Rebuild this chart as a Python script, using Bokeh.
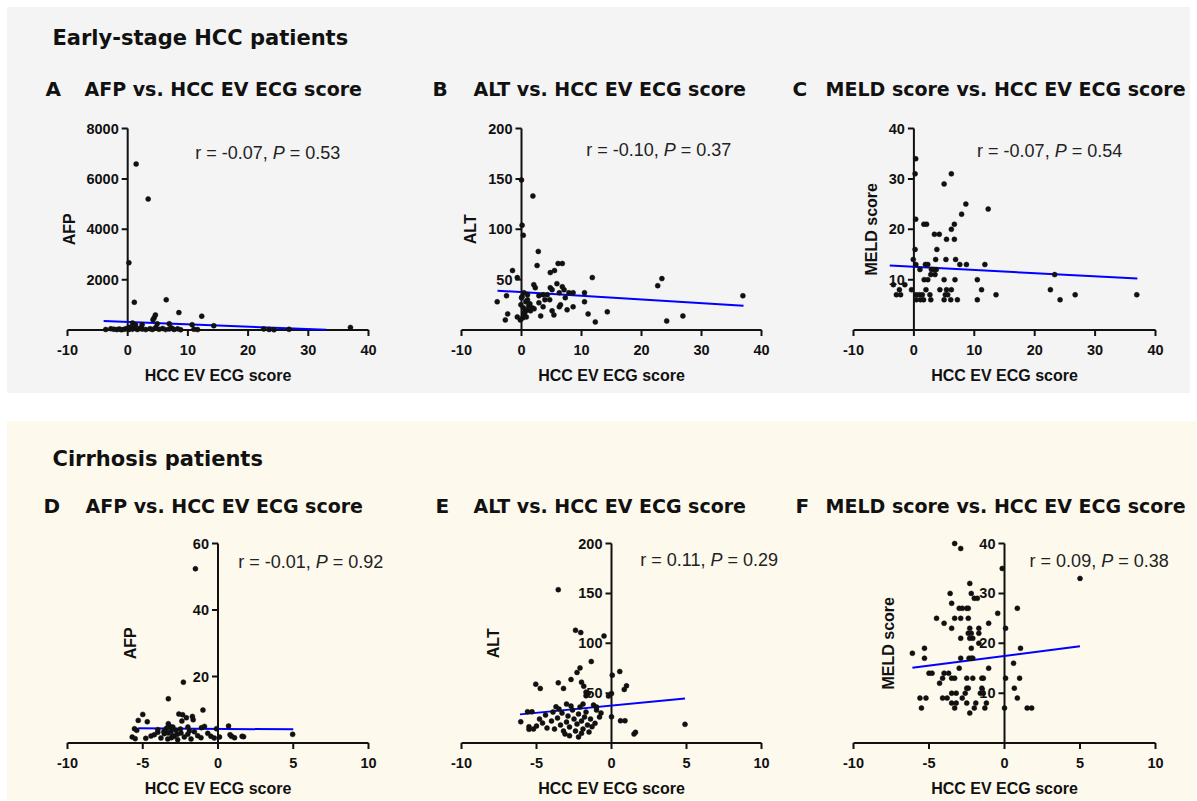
import numpy as np
from bokeh.plotting import figure
from bokeh.models import ColumnDataSource, LabelSet, Label, Range1d, Spacer
from bokeh.layouts import column, row
from bokeh.core.properties import value
from bokeh.embed import file_html
from bokeh.resources import INLINE

# ---------------- data ----------------
top_heading = "Early-stage HCC patients"
bottom_heading = "Cirrhosis patients"
letters_top = ["A", "B", "C"]
letters_bottom = ["D", "E", "F"]
panel_titles = ["AFP vs. HCC EV ECG score", "ALT vs. HCC EV ECG score",
                "MELD score vs. HCC EV ECG score"]
x_title = "HCC EV ECG score"
y_titles = ["AFP", "ALT", "MELD score"]

x_ticks_early = [-10, 0, 10, 20, 30, 40]
x_ticks_cirr = [-10, -5, 0, 5, 10]
afp_early_yticks = [2000, 4000, 6000, 8000]
alt_early_yticks = [50, 100, 150, 200]
meld_early_yticks = [10, 20, 30, 40]
afp_cirr_yticks = [20, 40, 60]
alt_cirr_yticks = [50, 100, 150, 200]
meld_cirr_yticks = [10, 20, 30, 40]

stat_r = ["-0.07", "-0.10", "-0.07", "-0.01", "0.11", "0.09"]
stat_p = ["0.53", "0.37", "0.54", "0.92", "0.29", "0.38"]

# A: AFP (early-stage)
afp_early_x = [1.4, 3.4, 0.2, 1.1, 6.4, 8.5, 12.3, 4.4, 4.6, 4.2, 4.9, 6.9, 2.4, 10.7, 14.3, 37.0,
               0.8, 1.3, 0.3, 0.1,
               -3.65, -2.8, -2.3, -1.8, -1.4, -1.05, -0.6, -0.2, 0.2, 0.5, 0.8, 1.05, 1.6, 2.0,
               2.4, 3.0, 3.7, 4.1, 4.65, 5.2, 5.8, 6.3, 6.9, 7.3, 7.7, 8.3, 8.8, 11.0, 11.6,
               22.6, 23.5, 24.3, 26.8]
afp_early_y = [6590, 5200, 2670, 1100, 1200, 690, 550, 490, 600, 410, 250, 250, 210, 210, 170, 100,
               280, 200, 110, 40,
               20, 50, 30, 15, 40, 10, 25, 60, 15, 90, 30, 130, 20, 70,
               35, 15, 50, 20, 100, 30, 60, 15, 40, 80, 20, 45, 10, 30, 15,
               40, 20, 10, 25]
afp_early_fit_x = [-4, 33]
afp_early_fit_y = [360, 5]

# B: ALT (early-stage)
alt_early_x = [0, 1.9, 0.1, 0.3, 2.8, 2.6, -1.5, -0.7, 4.8, 5.5, 6.1, 6.8, 11.8, 23.4, 22.7, 36.9,
               -4.05, -2.5, -2.3, -2.7, -0.7, -0.2, 2.05, 2.3, 1.0, 0.1, 0.4, 2.9, 3.2, 3.6,
               3.9, 4.3, 4.7, 4.8, 5.1, 5.9, 6.3, 6.8, 7.1, 6.5, 6.3, 5.1, 5.4, 7.3, 7.9, 8.6,
               8.6, 7.6, 10.5, 10.5, 11.1, 12.3, 14.3, 24.2, 26.9, 3.6, 2.9,
               -0.1, 0.3, 0.6, 0.9, 1.2, 0.4, 0.7, 1.5, 0.2, 1.0, 1.8, 0.5, 1.4, 2.1, 0.0, 0.8]
alt_early_y = [149, 133, 104, 94, 78, 64, 59, 52, 57, 59, 66, 66, 52, 51, 44, 34,
               28, 34, 16, 10, 13, 10, 45, 42, 35, 33, 37, 27, 14, 23,
               30, 35, 30, 42, 40, 46, 37, 43, 40, 25, 23, 19, 15, 32, 37, 37,
               23, 20, 37, 28, 16, 8, 18, 9, 14, 35, 34,
               25, 22, 18, 20, 24, 15, 28, 19, 12, 30, 22, 17, 26, 21, 32, 13]
alt_early_fit_x = [-4, 37]
alt_early_fit_y = [39, 24]

# C: MELD (early-stage)
meld_early_x = [0.3, 0.2, 6.2, 5.0, 8.6, 7.9, 12.3, 0.3, 1.65, 2.1, 6.7, 6.2, 3.4, 4.2, 5.4, 6.7,
                0.2, 3.8, -0.1, 3.6, 5.3, 6.9, 7.6, 8.7, 11.75, 0.33, 1.9, 2.3, 2.9, 3.3, 3.7,
                1.0, 2.8, 3.5, 1.7, 2.3, 5.0, 6.8, 10.5, 23.3, -3.4, -1.5, -2.4, -0.4, 2.0,
                4.3, 5.4, 6.2, 11.2, 22.6, -2.9, -2.2, 0.4, 0.9, 1.4, 2.65, 5.2, 5.6, 13.6,
                26.7, 36.9, 0.4, 1.1, 1.6, 2.8, 5.0, 6.1, 7.2, 10.5, 24.2]
meld_early_y = [34, 31, 31, 29, 25, 23, 24, 22, 21, 21, 21, 20, 19, 19, 18, 18,
                16, 16, 14, 14, 14, 14, 13, 13, 13, 13, 13, 13, 12, 12, 12,
                12, 11, 11, 10, 10, 10, 10, 10, 11, 9, 9, 8, 8, 8,
                8, 8, 8, 8, 8, 7, 7, 7, 7, 7, 7, 7, 7, 7,
                7, 7, 6, 6, 6, 6, 6, 6, 6, 6, 6]
meld_early_fit_x = [-4, 37]
meld_early_fit_y = [12.8, 10.2]

# D: AFP (cirrhosis)
afp_cirr_x = [-1.5, -2.3, -3.3, -1.0, -5.0, -5.3, -4.7, -2.6, -2.35, -2.1, -1.7, -1.65, -2.4,
              -3.3, -3.2, -3.4, -3.5, -3.0, 0.7, -0.1, -0.9, -1.1, -5.55, -5.4, -5.7, -5.5,
              -4.8, -4.45,
              -4.23, -4.0, -3.79, -3.57, -3.34, -3.12, -2.9, -2.68, -2.46, -2.24, -2.01,
              -1.79, -1.57, -1.35, -1.13, -0.68, -0.47, -0.25,
              -3.3, -3.0, -2.8, -2.5, -2.0, -1.9, -3.6, -4.0, -2.7, -3.1,
              0.1, 0.9, 1.1, 1.6, 1.7, 0.8, 4.96]
afp_cirr_y = [52.4, 18.3, 13.3, 9.9, 8.6, 6.8, 6.4, 8.7, 8.5, 7.6, 8.0, 7.0, 6.6,
              5.8, 5.0, 4.5, 4.0, 4.8, 5.1, 4.3, 5.0, 4.6, 4.3, 3.8, 1.8, 1.3,
              1.4, 2.1,
              2.5, 3.2, 1.5, 2.8, 1.2, 3.5, 2.0, 1.0, 3.0, 1.8, 2.6,
              1.2, 3.4, 2.2, 1.6, 2.9, 2.0, 1.5,
              3.0, 2.2, 3.8, 4.2, 4.8, 3.6, 3.4, 4.0, 2.6, 1.6,
              1.8, 2.0, 1.6, 2.0, 1.9, 2.5, 2.6]
afp_cirr_fit_x = [-5.3, 5.0]
afp_cirr_fit_y = [4.4, 4.1]

# E: ALT (cirrhosis)
alt_cirr_x = [-3.55, -2.4, -2.05, -0.5, -1.35, -2.1, -2.3, 0.55, 0.05, -5.05, -4.75, -3.55,
              -3.2, -2.7, -2.0, -1.85, 1.0, 0.85, 0.0, -0.2, -1.7, -1.55, -1.7, -5.6, -5.3,
              -6.05, -5.5, -5.5, -3.7, -3.0, 0.6, 0.9, 0.0, 1.6, 1.5, 4.9, -2.8, -2.0, -1.3,
              -1.1, -1.0, -1.2, -1.0,
              -5.0, -4.6, -4.3, -4.0, -3.8, -3.6, -3.4, -3.3, -3.2, -3.0, -2.9, -2.8, -2.6,
              -2.5, -2.4, -2.3, -2.2, -2.1, -2.0, -1.9, -1.8, -1.7, -1.6, -1.5, -1.4, -3.5,
              -4.4, -3.9, -2.7, -1.9, -0.8, -0.7, -4.8, -5.2, -2.2, -3.1]
alt_cirr_y = [153.7, 113, 110.7, 107.3, 81.7, 75.3, 70.7, 71.7, 68, 59, 54.7, 60.3,
              54.7, 63.7, 61, 57, 57.3, 53.7, 49.7, 47, 51, 49.7, 47.3, 31.3, 31.3,
              21.3, 16.3, 13.7, 36.3, 39, 22.3, 22.3, 26.3, 10.7, 9, 18.7, 7.3, 9.7, 16.3,
              19.7, 33, 38, 36,
              17, 20, 15, 22, 14, 25, 18, 30, 12, 21, 27, 16, 33,
              24, 12, 19, 29, 36, 22, 14, 26, 31, 18, 11, 24, 34,
              28, 31, 37, 39, 26, 30, 24, 14, 6, 9]
alt_cirr_fit_x = [-6.1, 4.9]
alt_cirr_fit_y = [28.7, 44.7]

# F: MELD (cirrhosis)
meld_cirr_x = [-3.3, -2.9, -0.15, 5.0, -2.3, -3.6, -2.2, -2.0, -1.8, -3.5, -3.0, -2.8, -2.5,
               -2.4, 0.85, -0.45, -4.5, -3.3, -2.9, -2.4, -4.0, -1.05, -3.5, -2.3, -1.7, 0.07,
               -2.4, -2.2, -1.7, -2.9, -2.3, -2.1, -1.7, -6.1, -5.3, 1.06, -2.2, -5.3, -2.9,
               -2.35, -2.2, -2.1, -1.05, 0.6, -5.0, -4.8, -4.0, -4.3, -4.1, -3.7, -3.5, -3.3,
               -2.5, -2.1, -1.5, -1.4, 0.07, 1.0, 0.65, -2.5, -2.4, -1.6, -3.5, -3.2, -4.1,
               -3.8, -5.6, -5.2, -2.8, -2.6, 0.85, -3.5, -3.2, -5.5, -3.3, -2.0, -1.3, -2.5,
               -1.9, -2.3, -1.2, 0.0, 1.5, 1.8, -1.5, -1.4, -3.0]
meld_cirr_y = [40, 39, 35, 33, 32, 30, 30, 29, 29, 28, 27, 27, 27,
               27, 27, 26, 25, 25, 25, 25, 24, 24, 23, 23, 23, 23,
               22, 22, 22, 21, 21, 21, 20, 18, 19, 19, 19, 17, 17,
               17, 17, 17, 15, 16, 14, 14, 14, 12, 13, 14, 13, 13,
               13, 13, 13, 13, 13, 13, 11, 11, 11, 10, 10, 10, 9,
               9, 9, 9, 9, 10, 9, 8, 8, 7, 7, 7, 7, 8,
               8, 6, 8, 7, 7, 7, 11, 10, 15]
meld_cirr_fit_x = [-6.1, 5.0]
meld_cirr_fit_y = [15.1, 19.4]

# ---------------- style ----------------
GREY = "#f4f4f4"
CREAM = "#fdf9ed"
INK = "#111111"
LINE_BLUE = "#0000ff"
TITLE_FONT = "DejaVu Sans"
BODY_FONT = "Liberation Sans"


def make_panel(x, y, fx, fy, xticks, yticks, ylab, ylab_xy, stat_anchor, r_txt, p_txt,
               W, H, L, R, T, B, bg):
    """L/R: pixel columns of first/last x tick; T/B: pixel rows of top y tick / zero."""
    x0, x1 = xticks[0], xticks[-1]
    ymax = yticks[-1]
    ux = (x1 - x0) / (R - L)
    uy = ymax / (B - T)
    p = figure(width=W, height=H,
               x_range=Range1d(x0 - L * ux, x0 + (W - L) * ux),
               y_range=Range1d(-(H - B) * uy, ymax + T * uy),
               output_backend="svg", toolbar_location=None,
               x_axis_location=None, y_axis_location=None, min_border=0,
               background_fill_color=bg, border_fill_color=bg, outline_line_color=None)
    p.grid.visible = False

    # x axis (at y = 0)
    n = len(xticks)
    p.segment(x0=[x0], y0=[0], x1=[x1], y1=[0], line_width=2, line_color=INK)
    p.segment(x0=xticks, y0=[0] * n, x1=xticks, y1=[-6 * uy] * n,
              line_width=2, line_color=INK)
    xsrc = ColumnDataSource(dict(x=xticks, y=[-20 * uy] * n, t=[str(v) for v in xticks]))
    p.add_layout(LabelSet(x="x", y="y", text="t", source=xsrc, text_align="center",
                          text_baseline="middle", text_font=value(BODY_FONT),
                          text_font_style="bold", text_font_size="14.5px", text_color=INK))
    p.add_layout(Label(x=(x0 + x1) / 2, y=-45 * uy, text=x_title, text_align="center",
                       text_baseline="middle", text_font=BODY_FONT, text_font_style="bold",
                       text_font_size="16px", text_color=INK))

    # y axis (at x = 0)
    m = len(yticks)
    p.segment(x0=[0], y0=[0], x1=[0], y1=[ymax], line_width=2, line_color=INK)
    p.segment(x0=[0] * m, y0=yticks, x1=[-6 * ux] * m, y1=yticks,
              line_width=2, line_color=INK)
    ysrc = ColumnDataSource(dict(x=[-9 * ux] * m, y=yticks, t=[str(v) for v in yticks]))
    p.add_layout(LabelSet(x="x", y="y", text="t", source=ysrc,
                          text_align="right", text_baseline="middle",
                          text_font=value(BODY_FONT), text_font_style="bold",
                          text_font_size="14.5px", text_color=INK))
    p.add_layout(Label(x=ylab_xy[0], y=ylab_xy[1], text=ylab, angle=np.pi / 2,
                       text_align="center", text_baseline="middle", text_font=BODY_FONT,
                       text_font_style="bold", text_font_size="16px", text_color=INK))

    # data
    p.line(fx, fy, line_color=LINE_BLUE, line_width=2)
    p.scatter(x, y, size=5, fill_color=INK, line_color=INK, line_width=0.5)

    # statistic text
    sx, sy = stat_anchor
    p.add_layout(Label(x=sx, y=sy, text="r = " + r_txt + ",", x_offset=-5,
                       text_align="right", text_baseline="middle", text_font=BODY_FONT,
                       text_font_size="18px", text_color="#222222"))
    p.add_layout(Label(x=sx, y=sy, text="P", text_align="left", text_baseline="middle",
                       text_font=BODY_FONT, text_font_style="italic",
                       text_font_size="18px", text_color="#222222"))
    p.add_layout(Label(x=sx, y=sy, text="= " + p_txt, x_offset=17, text_align="left",
                       text_baseline="middle", text_font=BODY_FONT,
                       text_font_size="18px", text_color="#222222"))
    return p


def header(w, h, bg, heading, heading_xy, letters, letter_x, titles, title_x, title_y):
    hp = figure(width=w, height=h, x_range=Range1d(0, w), y_range=Range1d(0, h),
                output_backend="svg", toolbar_location=None, x_axis_location=None,
                y_axis_location=None, min_border=0, background_fill_color=bg,
                border_fill_color=bg, outline_line_color=None)
    hp.grid.visible = False
    hp.text(x=[heading_xy[0]], y=[heading_xy[1]], text=[heading], text_font=value(TITLE_FONT),
            text_font_style="bold", text_font_size="21px", text_baseline="middle",
            text_align="left", text_color=INK)
    hp.text(x=letter_x, y=[title_y] * 3, text=letters, text_font=value(TITLE_FONT),
            text_font_style="bold", text_font_size="20px", text_baseline="middle",
            text_align="left", text_color=INK)
    hp.text(x=title_x, y=[title_y] * 3, text=titles, text_font=value(TITLE_FONT),
            text_font_style="bold", text_font_size="19px", text_baseline="middle",
            text_align="left", text_color=INK)
    return hp


# figure geometry (pixels)
top_w = [393, 393, 397]
bot_w = [393, 393, 403]
tick_l = [60, 61, 60]
tick_r = [361, 361, 362]

top_specs = [
    (afp_early_x, afp_early_y, afp_early_fit_x, afp_early_fit_y, afp_early_yticks,
     y_titles[0], (-9.6, 4000), (24.1, 7040)),
    (alt_early_x, alt_early_y, alt_early_fit_x, alt_early_fit_y, alt_early_yticks,
     y_titles[1], (-8.5, 100), (23.7, 179)),
    (meld_early_x, meld_early_y, meld_early_fit_x, meld_early_fit_y, meld_early_yticks,
     y_titles[2], (-7.0, 20), (23.3, 35.5)),
]
bot_specs = [
    (afp_cirr_x, afp_cirr_y, afp_cirr_fit_x, afp_cirr_fit_y, afp_cirr_yticks,
     y_titles[0], (-5.8, 30), (6.5, 54.4)),
    (alt_cirr_x, alt_cirr_y, alt_cirr_fit_x, alt_cirr_fit_y, alt_cirr_yticks,
     y_titles[1], (-7.9, 100), (6.6, 183)),
    (meld_cirr_x, meld_cirr_y, meld_cirr_fit_x, meld_cirr_fit_y, meld_cirr_yticks,
     y_titles[2], (-7.7, 20), (6.4, 36.4)),
]

top_figs = []
for i, (x, y, fx, fy, yt, yl, ylxy, sa) in enumerate(top_specs):
    top_figs.append(make_panel(x, y, fx, fy, x_ticks_early, yt, yl, ylxy, sa,
                               stat_r[i], stat_p[i], top_w[i], 275,
                               tick_l[i], tick_r[i], 10, 211.5, GREY))
bot_figs = []
for i, (x, y, fx, fy, yt, yl, ylxy, sa) in enumerate(bot_specs):
    bot_figs.append(make_panel(x, y, fx, fy, x_ticks_cirr, yt, yl, ylxy, sa,
                               stat_r[i + 3], stat_p[i + 3], bot_w[i], 269,
                               tick_l[i], tick_r[i], 12, 211.5, CREAM))

head_top = header(sum(top_w), 111, GREY, top_heading, (45, 81), letters_top,
                  [38, 425, 785], panel_titles, [77, 466, 818], 30)
head_bot = header(sum(bot_w), 110, CREAM, bottom_heading, (45, 73), letters_bottom,
                  [36, 428, 788], panel_titles, [78, 466, 818], 26)

top_section = column(head_top, row(*top_figs, styles={"background-color": GREY}),
                     styles={"background-color": GREY})
bot_section = column(head_bot, row(*bot_figs, styles={"background-color": CREAM}),
                     styles={"background-color": CREAM})

layout = column(Spacer(width=1196, height=7),
                row(Spacer(width=7, height=793),
                    column(top_section, Spacer(width=1183, height=28), bot_section)))

open("out.html", "w").write(file_html(layout, INLINE))
